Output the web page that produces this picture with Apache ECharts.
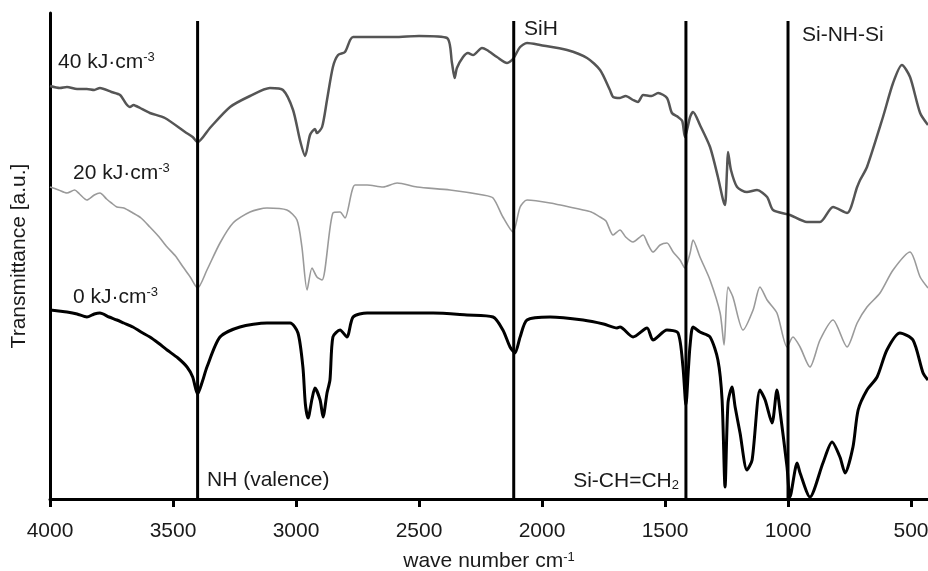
<!DOCTYPE html>
<html>
<head>
<meta charset="utf-8">
<script src="https://cdn.jsdelivr.net/npm/echarts@6/dist/echarts.min.js"></script>
<style>html,body{margin:0;padding:0;background:#fff}#c{width:928px;height:571px}</style>
</head>
<body>
<div id="c"></div>
<script>
// x: wave number (cm-1); y: transmittance (a.u.)
const wave40 = [4000,3960,3931,3890,3850,3820,3797,3750,3715,3690,3675,3660,3650,3634,3594,3533,3451,3420,3400,3350,3268,3187,3106,3053,3012,2984,2963,2943,2923,2915,2894,2874,2850,2829,2801,2780,2768,2600,2500,2386,2366,2355,2346,2321,2301,2280,2244,2224,2183,2142,2118,2089,2061,2008,1898,1817,1764,1724,1711,1683,1660,1630,1610,1589,1555,1528,1492,1472,1447,1430,1419,1398,1386,1358,1317,1285,1264,1256,1248,1244,1232,1207,1167,1126,1085,1061,992,923,870,817,760,719,707,679,614,573,537,504,463,431];
const trans40 = [413,411,412,410,410,409,411,407,404,395,392,394,393,391,386,381,367,362,357,371,392,403,411,409,389,359,343,364,370,366,372,399,432,444,447,459,462,462,463,461,436,421,431,442,446,444,451,449,442,436,440,452,456,454,449,441,429,409,402,401,403,399,397,404,403,406,401,386,382,378,362,382,387,374,352,322,299,294,329,347,329,312,307,309,302,289,284,277,277,292,286,312,319,332,382,416,434,422,386,374];

const wave20 = [4000,3965,3931,3900,3880,3850,3820,3797,3770,3750,3728,3700,3663,3630,3594,3560,3524,3490,3459,3430,3400,3362,3309,3256,3187,3118,3037,2996,2976,2955,2935,2915,2894,2850,2821,2801,2760,2711,2646,2589,2508,2374,2240,2199,2159,2118,2089,2061,1967,1833,1800,1764,1740,1711,1683,1660,1630,1589,1570,1549,1520,1492,1467,1439,1419,1398,1386,1358,1317,1276,1260,1244,1224,1183,1142,1114,1085,1045,1004,980,951,911,870,817,760,719,679,626,573,504,463,431];
const trans20 = [312,309,306,309,305,299,304,306,300,296,292,291,286,281,272,263,252,243,232,222,211,229,256,276,287,291,289,279,252,209,231,222,219,286,287,281,314,314,312,316,312,309,304,301,282,267,292,299,296,289,287,282,278,264,269,262,257,264,255,247,254,256,247,239,231,246,259,242,219,186,154,212,202,169,189,212,199,186,152,162,152,132,159,179,152,176,192,206,229,247,222,211];

const wave0 = [4000,3965,3931,3890,3850,3820,3797,3760,3728,3700,3663,3630,3594,3560,3524,3480,3443,3420,3400,3380,3362,3309,3228,3118,3024,2992,2972,2962,2951,2935,2923,2902,2890,2874,2862,2850,2821,2793,2768,2711,2577,2443,2305,2199,2159,2130,2110,2089,2061,1967,1833,1750,1695,1683,1630,1573,1549,1492,1447,1427,1415,1405,1398,1386,1358,1317,1285,1268,1256,1244,1228,1215,1195,1167,1146,1114,1093,1065,1045,1033,1004,992,963,951,911,858,821,789,768,736,715,679,638,598,545,492,451,431];
const trans0 = [189,188,187,185,182,185,186,182,179,176,172,167,162,156,149,141,132,122,105,118,132,162,172,176,176,166,132,95,81,100,111,99,82,106,119,162,169,162,182,186,186,186,184,182,169,152,146,162,179,182,179,175,171,172,162,171,159,169,166,132,94,130,154,172,167,162,139,99,12,96,112,92,66,29,39,109,99,76,109,89,32,2,36,26,2,36,57,42,26,52,89,109,122,149,166,159,126,119];

const markerWave = [3400, 2115, 1415, 1000];
const tickWave = [4000, 3500, 3000, 2500, 2000, 1500, 1000, 500];
const seriesNames = ['40 kJ·cm-3', '20 kJ·cm-3', '0 kJ·cm-3'];

const zip = (a, b) => a.map((v, i) => [v, b[i]]);
const FONT = '"Liberation Sans", Arial, sans-serif';
const chart = echarts.init(document.getElementById('c'), null, {renderer: 'canvas'});

const markerSeries = markerWave.map(w => ({
  type: 'line', data: [[w, 0], [w, 478]], symbol: 'none', silent: true,
  lineStyle: {color: '#000', width: 3}, z: 5, animation: false
}));

const supRich = {
  sup: {fontSize: 13, lineHeight: 13, verticalAlign: 'top', fontFamily: FONT, color: '#1a1a1a'},
  sub: {fontSize: 13, lineHeight: 13, verticalAlign: 'bottom', fontFamily: FONT, color: '#1a1a1a'}
};
function label(x, y, text, align) {
  return {type: 'text', x: x, y: y, z: 20, style: {
    text: text, font: '21px ' + FONT, fill: '#1a1a1a', align: align || 'left',
    verticalAlign: 'middle', rich: supRich, fontSize: 21, fontFamily: FONT, lineHeight: 22
  }};
}

chart.setOption({
  animation: false,
  backgroundColor: '#fff',
  grid: {left: 50, right: 0, top: 13, bottom: 72, containLabel: false, outerBoundsMode: 'none'},
  xAxis: {
    type: 'value', inverse: true, min: 431, max: 4000,
    name: 'wave number cm{sup|-1}', nameLocation: 'middle', nameGap: 52,
    nameTextStyle: {fontSize: 21, fontFamily: FONT, color: '#1a1a1a', rich: supRich},
    axisLine: {show: true, lineStyle: {color: '#000', width: 3}},
    axisTick: {show: true, length: 8, lineStyle: {color: '#000', width: 3}, customValues: tickWave},
    axisLabel: {fontSize: 21, fontFamily: FONT, color: '#1a1a1a', margin: 22, customValues: tickWave,
      formatter: v => String(v), hideOverlap: false},
    splitLine: {show: false}
  },
  yAxis: {
    type: 'value', min: 0, max: 486,
    name: 'Transmittance [a.u.]', nameLocation: 'middle', nameGap: 20, nameRotate: 90,
    nameTextStyle: {fontSize: 21, fontFamily: FONT, color: '#1a1a1a'},
    axisLine: {show: true, lineStyle: {color: '#000', width: 3}},
    axisTick: {show: false}, axisLabel: {show: false}, splitLine: {show: false}
  },
  series: [
    {name: seriesNames[0], type: 'line', data: zip(wave40, trans40), symbol: 'none', smooth: 0.25,
     lineStyle: {color: '#555', width: 2.5, join: 'round'}, z: 3},
    {name: seriesNames[1], type: 'line', data: zip(wave20, trans20), symbol: 'none', smooth: 0.25,
     lineStyle: {color: '#9a9a9a', width: 1.6, join: 'round'}, z: 3},
    {name: seriesNames[2], type: 'line', data: zip(wave0, trans0), symbol: 'none', smooth: 0.25,
     lineStyle: {color: '#000', width: 3, join: 'round'}, z: 3}
  ].concat(markerSeries),
  graphic: [
    label(58, 62, '40 kJ·cm{sup|-3}'),
    label(73, 173, '20 kJ·cm{sup|-3}'),
    label(73, 297, '0 kJ·cm{sup|-3}'),
    label(524, 29, 'SiH'),
    label(802, 35, 'Si-NH-Si'),
    label(207, 480, 'NH (valence)'),
    label(679, 481, 'Si-CH=CH{sub|2}', 'right')
  ]
});
</script>
</body>
</html>
